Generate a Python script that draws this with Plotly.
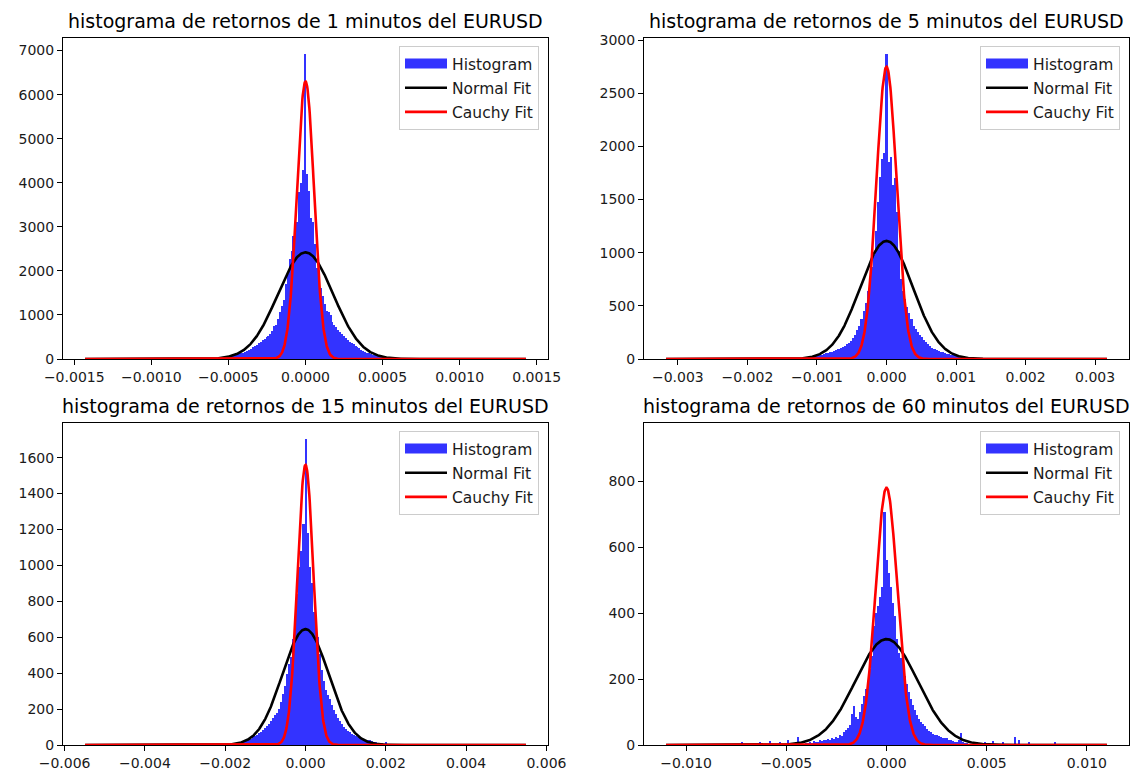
import numpy as np
import plotly.graph_objects as go

# ---------------------------------------------------------------------------
# Histogram counts of EURUSD returns (bins centred on k * bin width, k = -n..n)
# ---------------------------------------------------------------------------
bw_1m = 1.25e-5
counts_1m = [
    72, 75, 78, 85, 100, 112, 126, 135, 145, 158,
    175, 205, 238, 262, 290, 322, 355, 390, 422, 455,
    490, 515, 560, 640, 760, 775, 900, 1060, 1210, 1340,
    1700, 1930, 2260, 2450, 2800, 2980, 3100, 3780, 4000, 4290,
    6920,
    4200, 3820, 3200, 3110, 2600, 2060, 1880, 1620, 1430, 1250,
    1100, 1060, 1000, 830, 770, 733, 660, 605, 560, 520,
    475, 430, 390, 355, 330, 300, 270, 242, 215, 185,
    160, 140, 125, 110, 100, 88, 78, 70, 60, 52,
]

bw_5m = 3e-5
counts_5m = [
    25, 28, 30, 34, 37, 42, 47, 52, 57, 62,
    67, 72, 83, 92, 102, 112, 122, 138, 155, 170,
    195, 225, 270, 315, 380, 450, 530, 640, 770, 870,
    980, 1200, 1480, 1710, 1880, 1940,
    2870,
    1850, 1900, 1640, 1700, 1380, 1020, 750, 640, 560, 490,
    430, 375, 310, 280, 255, 230, 205, 180, 160, 138,
    122, 108, 96, 86, 76, 69, 62, 56, 50, 47,
    42, 37, 33, 28, 25, 22,
]

bw_15m = 5e-5
counts_15m = [
    3, 4, 5, 6, 8, 10, 12, 15, 18, 20,
    22, 25, 28, 35, 42, 50, 58, 66, 75, 84,
    95, 105, 118, 135, 150, 165, 180, 200, 242, 285,
    330, 395, 450, 490, 590, 700, 840, 990, 1080, 1230,
    1706,
    1180, 990, 900, 743, 669, 600, 505, 420, 355, 305,
    280, 258, 225, 195, 170, 150, 132, 117, 100, 87,
    77, 72, 63, 57, 50, 47, 44, 40, 35, 30,
    28, 26, 22, 18, 15, 12, 9, 7, 5, 18,
]

bw_60m = 1e-4
counts_60m = [
    6, 5, 8, 6, 12, 9, 10, 14, 12, 16,
    14, 18, 15, 22, 19, 25, 22, 30, 28, 38,
    45, 52, 62, 95, 118, 85, 80, 100, 125, 150,
    170, 195, 230, 270, 360, 400, 420, 450, 480, 705,
    560,
    520, 480, 430, 390, 320, 280, 265, 255, 210, 185,
    160, 140, 120, 105, 92, 80, 70, 64, 57, 48,
    42, 38, 33, 30, 31, 27, 25, 22, 20, 21,
    16, 15, 12, 10, 9, 14, 35, 8, 6, 5,
]
# isolated far-tail returns of the hourly series
tail_x_60m = [-0.0072, -0.0063, -0.0058, -0.0053, -0.0049, -0.0044,
              0.0045, 0.0049, 0.0053, 0.0058, 0.0064, 0.0066, 0.0071, 0.0084]
tail_y_60m = [8, 10, 12, 9, 14, 25, 10, 8, 12, 9, 25, 14, 8, 10]

# Fitted densities, scaled to counts
data_extent = [0.00143, 0.00317, 0.00549, 0.0110]
normal_peak = [2420, 1111, 645, 321]
normal_sd = [0.00018, 0.00038, 0.00058, 0.00155]
cauchy_peak = [6300, 2750, 1560, 780]
cauchy_sd = [0.0000556, 0.000145, 0.00020, 0.00054]

titles = [
    "histograma de retornos de 1 minutos del EURUSD",
    "histograma de retornos de 5 minutos del EURUSD",
    "histograma de retornos de 15 minutos del EURUSD",
    "histograma de retornos de 60 minutos del EURUSD",
]
y_max = [7285, 3020, 1793, 976]
x_dtick = [0.0005, 0.001, 0.002, 0.005]
x_fmt = [".4f", ".3f", ".3f", ".3f"]
y_dtick = [1000, 500, 200, 200]

bin_widths = [bw_1m, bw_5m, bw_15m, bw_60m]
all_counts = [counts_1m, counts_5m, counts_15m, counts_60m]

W, H = 1133, 773
# axes boxes in pixels: (left, right, top, bottom)
boxes = [(63, 548, 38, 359), (644, 1129, 38, 359),
         (63, 548, 423, 745), (644, 1129, 423, 745)]

FONT = "DejaVu Sans"
BLUE = "#3333ff"
TXT = "#1a1a1a"

fig = go.Figure()
layout = dict(
    template="none",
    width=W, height=H,
    margin=dict(l=0, r=0, t=0, b=0, autoexpand=False),
    paper_bgcolor="white", plot_bgcolor="white",
    font=dict(family=FONT, size=14, color=TXT),
    bargap=0,
    showlegend=True,
    annotations=[],
)

for i in range(4):
    suf = "" if i == 0 else str(i + 1)
    xa, ya = "x" + suf, "y" + suf
    leg = "legend" + suf

    counts = np.array(all_counts[i], dtype=float)
    n = (len(counts) - 1) // 2
    centers = np.arange(-n, n + 1) * bin_widths[i]

    fig.add_trace(go.Bar(
        x=centers, y=counts, width=bin_widths[i],
        marker=dict(color=BLUE, line=dict(width=0)),
        xaxis=xa, yaxis=ya, showlegend=False, hoverinfo="skip",
    ))
    if i == 3:
        fig.add_trace(go.Bar(
            x=tail_x_60m, y=tail_y_60m, width=bin_widths[i] * 0.5,
            marker=dict(color=BLUE, line=dict(width=0)),
            xaxis=xa, yaxis=ya, showlegend=False, hoverinfo="skip",
        ))
    # legend swatch for the histogram
    fig.add_trace(go.Scatter(
        x=[None], y=[None], mode="lines", name="Histogram",
        line=dict(color=BLUE, width=11),
        xaxis=xa, yaxis=ya, legend=leg, legendgroup="h%d" % i,
    ))

    xs = np.linspace(-data_extent[i], data_extent[i], 1200)
    normal = normal_peak[i] * np.exp(-0.5 * (xs / normal_sd[i]) ** 2)
    cauchy = cauchy_peak[i] * np.exp(-0.5 * (xs / cauchy_sd[i]) ** 2)
    fig.add_trace(go.Scatter(
        x=xs, y=normal, mode="lines", name="Normal Fit",
        line=dict(color="black", width=2.6),
        xaxis=xa, yaxis=ya, legend=leg, legendgroup="n%d" % i,
    ))
    fig.add_trace(go.Scatter(
        x=xs, y=cauchy, mode="lines", name="Cauchy Fit",
        line=dict(color="red", width=2.6),
        xaxis=xa, yaxis=ya, legend=leg, legendgroup="c%d" % i,
    ))

    l, r, t, b = boxes[i]
    xr = data_extent[i] * 1.1
    axis_common = dict(
        showline=True, linecolor="black", linewidth=1.1, mirror=True,
        ticks="outside", ticklen=5, tickwidth=1.1, tickcolor="black",
        showgrid=False, zeroline=False, automargin=False,
        tickfont=dict(family=FONT, size=14, color=TXT),
    )
    layout["xaxis" + suf] = dict(
        domain=[l / W, r / W], anchor=ya, range=[-xr, xr],
        dtick=x_dtick[i], tick0=0, tickformat=x_fmt[i], **axis_common,
    )
    layout["yaxis" + suf] = dict(
        domain=[1 - b / H, 1 - t / H], anchor=xa, range=[0, y_max[i]],
        dtick=y_dtick[i], tick0=0, tickformat="d", **axis_common,
    )
    layout[leg] = dict(
        x=(r - 9) / W, y=1 - (t + 8) / H, xanchor="right", yanchor="top",
        xref="paper", yref="paper",
        bgcolor="rgba(255,255,255,0.8)", bordercolor="#cccccc", borderwidth=1,
        font=dict(family=FONT, size=15.5, color=TXT),
        tracegroupgap=1, itemwidth=42,
    )
    layout["annotations"].append(dict(
        text=titles[i], x=(l + r) / 2 / W, y=1 - t / H,
        xref="paper", yref="paper", xanchor="center", yanchor="bottom",
        yshift=4, showarrow=False,
        font=dict(family=FONT, size=19, color="black"),
    ))

fig.update_layout(**layout)
fig.write_html("out.html")
